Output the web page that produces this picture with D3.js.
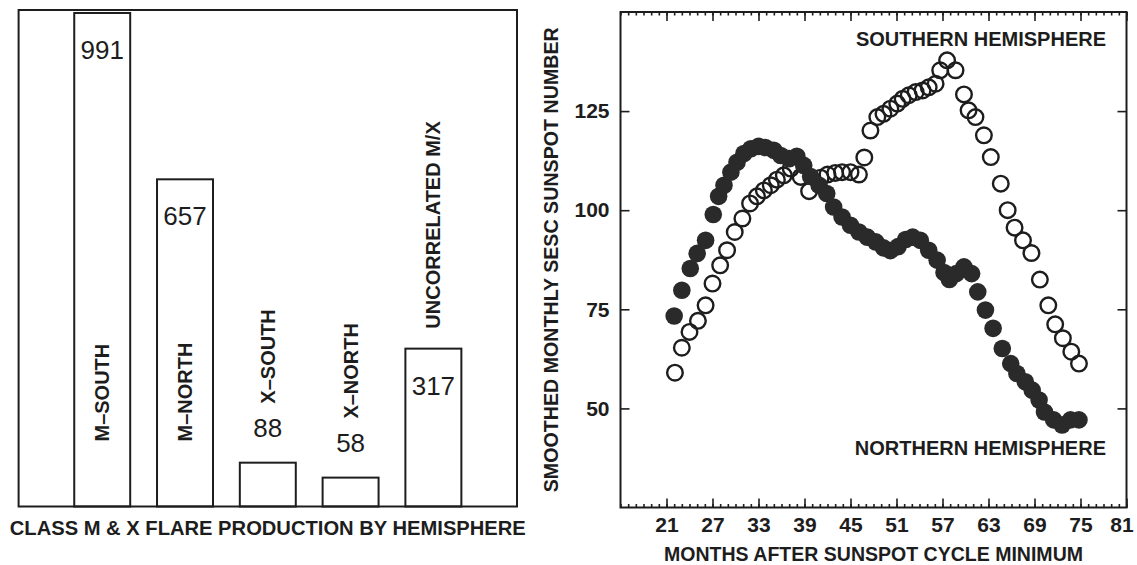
<!DOCTYPE html>
<html>
<head>
<meta charset="utf-8">
<script src="https://cdn.jsdelivr.net/npm/d3@7"></script>
<style>
  body { margin: 0; background: #fff; }
  svg { display: block; }
  text { font-family: "Liberation Sans", Arial, sans-serif; fill: #1d1d1d; }
</style>
</head>
<body>
<svg id="chart" width="1137" height="565"></svg>
<script>
// Left panel: class M & X flare counts.
const flareCategories = ['M\u2013SOUTH', 'M\u2013NORTH', 'X\u2013SOUTH', 'X\u2013NORTH', 'UNCORRELATED M/X'];
const flareCounts = [991, 657, 88, 58, 317];

// Right panel: smoothed monthly SESC sunspot number.
const northMonths = [22.0, 23.0, 24.1, 25.0, 26.1, 27.1, 27.8, 28.5, 29.4, 30.2,
  31.1, 32.0, 33.0, 33.9, 35.0, 35.9, 37.0, 38.0, 38.9, 39.8,
  40.9, 41.9, 42.8, 43.9, 45.0, 46.1, 47.2, 48.3, 49.3, 50.2,
  51.2, 52.2, 53.1, 54.1, 55.2, 56.3, 57.2, 57.9, 58.8, 59.8,
  60.8, 61.6, 62.6, 63.6, 64.8, 65.9, 66.7, 67.8, 68.7, 69.6,
  70.3, 71.5, 72.6, 73.7, 74.8];
const northValues = [73.3, 79.8, 85.3, 89.1, 92.4, 98.9, 103.5, 106.3, 109.6, 112.1,
  114.3, 115.5, 116.1, 115.8, 115.1, 113.8, 113.0, 113.6, 111.3, 108.5,
  106.3, 104.2, 100.8, 98.3, 96.2, 94.5, 93.2, 92.0, 90.5, 89.8,
  90.8, 92.6, 93.2, 92.4, 89.9, 87.4, 84.3, 82.5, 84.0, 85.7,
  84.0, 79.4, 74.8, 70.2, 65.1, 61.3, 58.8, 56.7, 54.6, 52.1,
  49.1, 47.1, 45.8, 47.1, 47.1];

const southMonths = [22.1, 23.0, 24.0, 25.1, 26.1, 27.0, 28.0, 28.9, 29.9, 30.9,
  31.9, 32.8, 33.7, 34.6, 35.4, 36.3, 37.2, 38.5, 39.6, 41.1,
  42.0, 43.0, 43.9, 45.0, 46.1, 46.8, 47.6, 48.5, 49.3, 50.2,
  51.1, 51.8, 52.6, 53.5, 54.4, 55.2, 56.1, 56.7, 57.6, 58.7,
  59.8, 60.4, 61.3, 62.4, 63.3, 64.6, 65.5, 66.4, 67.5, 68.6,
  69.7, 70.8, 71.7, 72.7, 73.8, 74.8];
const southValues = [59.0, 65.3, 69.3, 72.1, 76.0, 81.5, 86.1, 89.9, 94.5, 97.9,
  101.7, 103.5, 105.0, 106.3, 107.7, 108.8, 110.5, 108.4, 104.8, 108.2,
  109.0, 109.4, 109.6, 109.6, 109.0, 113.3, 120.1, 123.5, 124.3, 125.6,
  126.9, 128.1, 129.0, 129.8, 130.2, 131.0, 131.9, 135.3, 137.8, 135.3,
  129.2, 125.2, 123.5, 118.9, 113.4, 106.7, 100.0, 95.6, 92.4, 89.2,
  82.5, 76.0, 71.2, 67.7, 64.3, 61.3];

const monthTicks = [21, 27, 33, 39, 45, 51, 57, 63, 69, 75, 81];
const sunspotTicks = [50, 75, 100, 125];

const ink = '#1d1d1d';
const svg = d3.select('#chart');

// ---- Bar panel ----
const bx0 = 18.6, bx1 = 517, by0 = 10, by1 = 506.5;

const xBand = d3.scaleBand()
  .domain(flareCategories)
  .range([bx0, bx1])
  .paddingInner(0.324)
  .paddingOuter(0.672);

const yCount = d3.scaleLinear()
  .domain([0, 997])
  .range([by1, by0]);

svg.append('rect')
  .attr('x', bx0).attr('y', by0)
  .attr('width', bx1 - bx0).attr('height', by1 - by0)
  .attr('fill', 'none').attr('stroke', ink).attr('stroke-width', 2);

const flares = flareCategories.map((c, i) => ({ cat: c, value: flareCounts[i] }));

const bar = svg.append('g').selectAll('g')
  .data(flares)
  .join('g');

bar.append('rect')
  .attr('x', d => xBand(d.cat))
  .attr('y', d => yCount(d.value))
  .attr('width', xBand.bandwidth())
  .attr('height', d => by1 - yCount(d.value))
  .attr('fill', 'none')
  .attr('stroke', ink)
  .attr('stroke-width', 2);

// count sits inside tall bars, above the short ones
const countBaseline = d => d.value > 300 ? yCount(d.value) + 46 : yCount(d.value) - 26;

bar.append('text')
  .attr('x', d => xBand(d.cat) + xBand.bandwidth() / 2)
  .attr('y', countBaseline)
  .attr('text-anchor', 'middle')
  .style('font-size', '26px')
  .text(d => d.value);

const labelStart = d => {
  if (d.value > 500) return by1 - 65;
  if (d.value > 300) return yCount(d.value) - 20;
  return countBaseline(d) - 33;
};

bar.append('text')
  .attr('transform', d => `translate(${xBand(d.cat) + xBand.bandwidth() / 2},${labelStart(d)}) rotate(-90)`)
  .attr('dy', '0.35em')
  .attr('text-anchor', 'start')
  .style('font-size', '20px')
  .style('font-weight', 'bold')
  .text(d => d.cat);

svg.append('text')
  .attr('x', (bx0 + bx1) / 2)
  .attr('y', 535)
  .attr('text-anchor', 'middle')
  .attr('textLength', 516)
  .attr('lengthAdjust', 'spacingAndGlyphs')
  .style('font-size', '21px')
  .style('font-weight', 'bold')
  .text('CLASS M & X FLARE PRODUCTION BY HEMISPHERE');

// ---- Sunspot panel ----
const px0 = 620.5, px1 = 1126.5, py0 = 12, py1 = 507.5;

const xMonth = d3.scaleLinear().domain([15, 81]).range([px0, px1]);
const ySpots = d3.scaleLinear().domain([25, 150]).range([py1, py0]);

const everyMonth = d3.range(15, 82);

const addAxis = (axis, tx, ty) => {
  const g = svg.append('g')
    .attr('transform', `translate(${tx},${ty})`)
    .call(axis);
  g.select('.domain').remove();
  g.selectAll('line').attr('stroke', ink).attr('stroke-width', 1.6);
  g.selectAll('text')
    .attr('fill', ink)
    .style('font-family', '"Liberation Sans", Arial, sans-serif')
    .style('font-size', '21px')
    .style('font-weight', 'bold');
  return g;
};

addAxis(d3.axisBottom(xMonth).tickValues(everyMonth).tickSize(-3.5).tickFormat(''), 0, py1);
const monthAxis = addAxis(d3.axisBottom(xMonth).tickValues(monthTicks).tickSize(-9).tickPadding(10), 0, py1);
// last label would run past the page edge
monthAxis.selectAll('.tick text').filter(d => d === 81).attr('dx', -5);
addAxis(d3.axisTop(xMonth).tickValues(everyMonth).tickSize(-3.5).tickFormat(''), 0, py0);
addAxis(d3.axisTop(xMonth).tickValues(monthTicks).tickSize(-9).tickFormat(''), 0, py0);
addAxis(d3.axisLeft(ySpots).tickValues(sunspotTicks).tickSize(-9).tickPadding(11), px0, 0);
addAxis(d3.axisRight(ySpots).tickValues(sunspotTicks).tickSize(-9).tickFormat(''), px1, 0);

svg.append('rect')
  .attr('x', px0).attr('y', py0)
  .attr('width', px1 - px0).attr('height', py1 - py0)
  .attr('fill', 'none').attr('stroke', ink).attr('stroke-width', 2);

const south = southMonths.map((m, i) => ({ m, v: southValues[i] }));
const north = northMonths.map((m, i) => ({ m, v: northValues[i] }));

svg.append('g').selectAll('circle')
  .data(south)
  .join('circle')
  .attr('cx', d => xMonth(d.m))
  .attr('cy', d => ySpots(d.v))
  .attr('r', 7.8)
  .attr('fill', 'none')
  .attr('stroke', ink)
  .attr('stroke-width', 2.4);

svg.append('g').selectAll('circle')
  .data(north)
  .join('circle')
  .attr('cx', d => xMonth(d.m))
  .attr('cy', d => ySpots(d.v))
  .attr('r', 8.8)
  .attr('fill', '#2a2a2a');

svg.append('text')
  .attr('x', 1106).attr('y', 46)
  .attr('text-anchor', 'end')
  .style('font-size', '20px').style('font-weight', 'bold')
  .text('SOUTHERN HEMISPHERE');

svg.append('text')
  .attr('x', 1106).attr('y', 455)
  .attr('text-anchor', 'end')
  .style('font-size', '20px').style('font-weight', 'bold')
  .text('NORTHERN HEMISPHERE');

svg.append('text')
  .attr('x', (px0 + px1) / 2)
  .attr('y', 561)
  .attr('text-anchor', 'middle')
  .attr('textLength', 419)
  .attr('lengthAdjust', 'spacingAndGlyphs')
  .style('font-size', '21px')
  .style('font-weight', 'bold')
  .text('MONTHS AFTER SUNSPOT CYCLE MINIMUM');

svg.append('text')
  .attr('transform', `translate(558,${(py0 + py1) / 2}) rotate(-90)`)
  .attr('text-anchor', 'middle')
  .attr('textLength', 465)
  .attr('lengthAdjust', 'spacingAndGlyphs')
  .style('font-size', '20px')
  .style('font-weight', 'bold')
  .text('SMOOTHED MONTHLY SESC SUNSPOT NUMBER');
</script>
</body>
</html>
